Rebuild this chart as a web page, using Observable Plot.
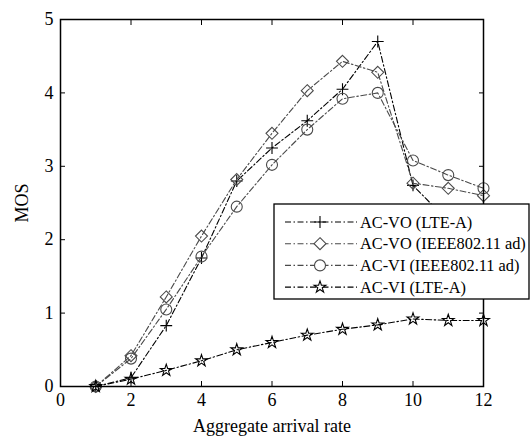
<!DOCTYPE html>
<html>
<head>
<meta charset="utf-8">
<script src="https://cdn.jsdelivr.net/npm/d3@7"></script>
<script src="https://cdn.jsdelivr.net/npm/@observablehq/plot@0.6"></script>
<style>
  html, body { margin: 0; padding: 0; background: #fff; }
  #chart { position: relative; width: 531px; height: 441px; }
</style>
</head>
<body>
<div id="chart"></div>
<script>
const rates = [1, 2, 3, 4, 5, 6, 7, 8, 9, 10, 11, 12];
const seriesNames = ["AC-VO (LTE-A)", "AC-VO (IEEE802.11 ad)", "AC-VI (IEEE802.11 ad)", "AC-VI (LTE-A)"];
const voLte   = [0, 0.12, 0.83, 1.75, 2.80, 3.25, 3.62, 4.05, 4.70, 2.74, 2.25, 2.10];
const voIeee  = [0, 0.42, 1.22, 2.05, 2.82, 3.45, 4.03, 4.43, 4.28, 2.77, 2.70, 2.60];
const viIeee  = [0, 0.38, 1.05, 1.77, 2.45, 3.02, 3.50, 3.92, 4.00, 3.08, 2.88, 2.70];
const viLte   = [0, 0.10, 0.22, 0.35, 0.50, 0.60, 0.70, 0.78, 0.84, 0.92, 0.90, 0.90];
const xTicks = [0, 2, 4, 6, 8, 10, 12];
const yTicks = [0, 1, 2, 3, 4, 5];

const seriesValues = [voLte, voIeee, viIeee, viLte];
const symbols = ["plus", "diamond2", "circle", "star"];
const radii = [3.9, 5.4, 5.5, 3.7];
const colors = ["#000000", "#4a4a4a", "#4a4a4a", "#000000"];
const dash = "6,2.5,1.5,2.5";

const data = seriesNames.flatMap((name, i) =>
  rates.map((r, j) => ({series: name, idx: i, x: r, y: seriesValues[i][j]})));

const font = "'Liberation Serif', 'Times New Roman', 'DejaVu Serif', serif";

const marks = [];
seriesNames.forEach((name, i) => {
  const d = data.filter(p => p.idx === i);
  marks.push(Plot.line(d, {x: "x", y: "y", stroke: colors[i], strokeWidth: 1.1, strokeDasharray: dash}));
  marks.push(Plot.dot(d, {x: "x", y: "y", symbol: () => symbols[i], stroke: colors[i], fill: "none", r: radii[i], strokeWidth: 1.1}));
});

const chart = Plot.plot({
  width: 531,
  height: 441,
  marginLeft: 60,
  marginRight: 48,
  marginTop: 19,
  marginBottom: 55,
  style: {fontFamily: font, fontSize: "18px", background: "white", color: "black"},
  x: {domain: [0, 12]},
  y: {domain: [0, 5]},
  symbol: {type: "identity"},
  marks: [
    ...marks,
    Plot.frame({stroke: "black", strokeWidth: 1.5}),
    Plot.axisX(xTicks, {anchor: "bottom", tickSize: -5, tickPadding: 12, tickFormat: d3.format("d"), label: "Aggregate arrival rate", labelArrow: "none", labelAnchor: "center", labelOffset: 45, fontSize: 18, fontFamily: font}),
    Plot.axisX(xTicks, {anchor: "top", tickSize: -5, tickFormat: () => "", label: null}),
    Plot.axisY(yTicks, {anchor: "left", tickSize: -5, tickPadding: 12, tickFormat: d3.format("d"), label: "MOS", labelAnchor: "center", labelOffset: 45, labelArrow: "none", fontSize: 18, fontFamily: font}),
    Plot.axisY(yTicks, {anchor: "right", tickSize: -5, tickFormat: () => "", label: null})
  ]
});

document.getElementById("chart").appendChild(chart);

// Legend box drawn in the same SVG
const svg = d3.select(chart);
const lg = svg.append("g").attr("transform", "translate(274,204)");
lg.append("rect").attr("x", 0).attr("y", 0).attr("width", 255).attr("height", 95)
  .attr("fill", "white").attr("stroke", "black").attr("stroke-width", 1.3);
const symMap = {plus: d3.symbolPlus, diamond2: d3.symbolDiamond2, circle: d3.symbolCircle, star: d3.symbolStar};
const texts = [];
seriesNames.forEach((name, i) => {
  const y = 18 + i * 21.7;
  lg.append("line").attr("x1", 11).attr("x2", 83).attr("y1", y).attr("y2", y)
    .attr("stroke", colors[i]).attr("stroke-width", 1.1).attr("stroke-dasharray", dash);
  const r = radii[i];
  lg.append("path").attr("transform", `translate(46,${y})`)
    .attr("d", d3.symbol(symMap[symbols[i]], r * r * Math.PI)())
    .attr("fill", "white").attr("stroke", colors[i]).attr("stroke-width", 1.1);
  texts.push(lg.append("text").attr("x", 86).attr("y", y).attr("dy", "0.35em")
    .attr("text-anchor", "start")
    .style("font-family", font).style("font-size", "17px").attr("fill", "black").text(name));
});
// shrink legend font if the longest entry would overflow the box
let maxW = 0;
texts.forEach(t => { maxW = Math.max(maxW, t.node().getComputedTextLength()); });
if (maxW > 166) {
  const fs = 17 * 166 / maxW;
  texts.forEach(t => t.style("font-size", fs + "px"));
}
</script>
</body>
</html>
